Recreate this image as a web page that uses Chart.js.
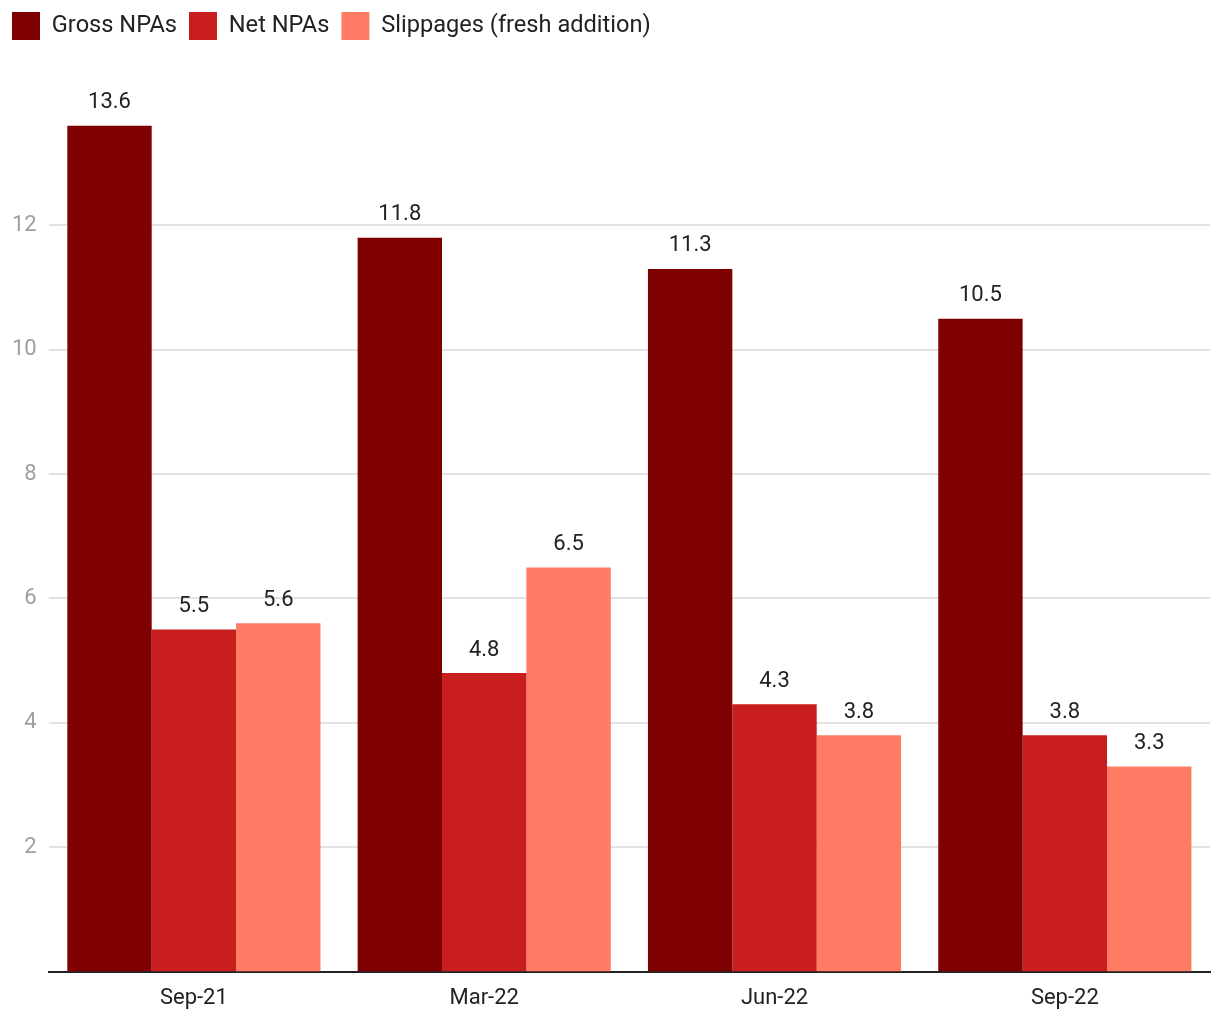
<!DOCTYPE html>
<html>
<head>
<meta charset="utf-8">
<script src="https://cdn.jsdelivr.net/npm/chart.js@4"></script>
<style>
  html, body { margin: 0; padding: 0; background: #fff; }
  #wrap { width: 1220px; height: 1020px; }
</style>
</head>
<body>
<div id="wrap"><canvas id="grafico"></canvas></div>
<script>
// datos
const periodos = ['Sep-21', 'Mar-22', 'Jun-22', 'Sep-22'];
const grossNPAs = [13.6, 11.8, 11.3, 10.5];
const netNPAs = [5.5, 4.8, 4.3, 3.8];
const slippages = [5.6, 6.5, 3.8, 3.3];
const ticksY = [2, 4, 6, 8, 10, 12];

// etiquetas encima de cada barra
const etiquetas = {
  id: 'etiquetas',
  afterDatasetsDraw(chart) {
    const c = chart.ctx;
    c.save();
    c.font = '22px Roboto';
    c.fillStyle = '#222';
    c.textAlign = 'center';
    c.textBaseline = 'bottom';
    chart.data.datasets.forEach((ds, i) => {
      chart.getDatasetMeta(i).data.forEach((bar, j) => {
        c.fillText(ds.data[j].toFixed(1), bar.x, bar.y - 12);
      });
    });
    c.restore();
  }
};

// espacio extra debajo de la leyenda
const espacioLeyenda = {
  id: 'espacioLeyenda',
  beforeInit(chart) {
    const fitOriginal = chart.legend.fit;
    chart.legend.fit = function () {
      fitOriginal.bind(chart.legend)();
      this.height += 51;
    };
  }
};

const ctx = document.getElementById('grafico').getContext('2d');
new Chart(ctx, {
  type: 'bar',
  data: {
    labels: periodos,
    datasets: [
      { label: 'Gross NPAs', data: grossNPAs, backgroundColor: '#7f0000' },
      { label: 'Net NPAs', data: netNPAs, backgroundColor: '#c81e1e' },
      { label: 'Slippages (fresh addition)', data: slippages, backgroundColor: '#ff7b63' }
    ]
  },
  options: {
    responsive: true,
    maintainAspectRatio: false,
    animation: false,
    layout: { padding: { left: 0, right: 10, top: 0, bottom: 2 } },
    datasets: { bar: { categoryPercentage: 0.872, barPercentage: 1.0 } },
    plugins: {
      legend: {
        position: 'top',
        align: 'start',
        labels: {
          boxWidth: 28,
          boxHeight: 28,
          padding: 12,
          color: '#222',
          font: { family: 'Roboto', size: 23.6 }
        }
      },
      tooltip: { enabled: false }
    },
    scales: {
      x: {
        grid: { display: false },
        border: { color: '#222', width: 2 },
        ticks: { color: '#222', font: { family: 'Roboto', size: 22 }, padding: 6 }
      },
      y: {
        min: 0,
        max: 14,
        afterBuildTicks: (axis) => { axis.ticks = ticksY.map(v => ({ value: v })); },
        grid: { color: '#e2e2e2', lineWidth: 2, drawTicks: false },
        border: { display: false },
        ticks: { color: '#9e9e9e', font: { family: 'Roboto', size: 22 }, padding: 12 }
      }
    }
  },
  plugins: [etiquetas, espacioLeyenda]
});
</script>
</body>
</html>
